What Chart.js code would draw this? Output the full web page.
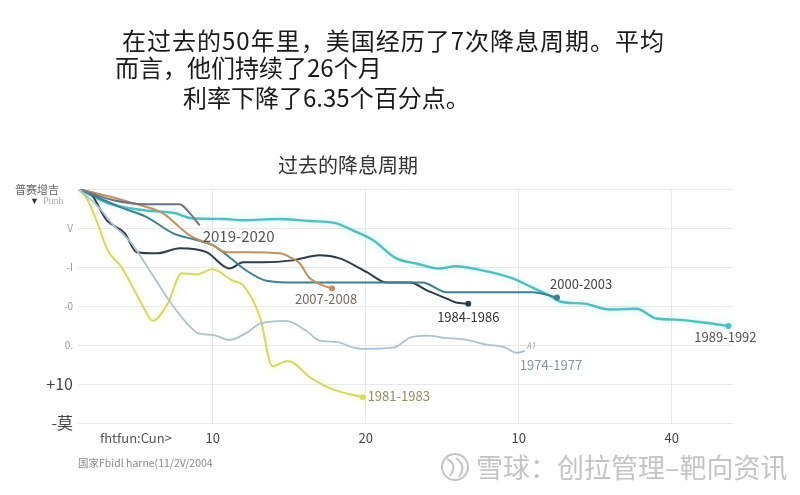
<!DOCTYPE html>
<html>
<head>
<meta charset="utf-8">
<script src="https://cdn.jsdelivr.net/npm/chart.js@4.4.0/dist/chart.umd.min.js"></script>
<style>
  body { margin: 0; background: #fff; width: 800px; height: 495px; overflow: hidden; position: relative; font-family: "Noto Sans CJK SC", sans-serif; }
  .t { position: absolute; color: #1a1a1a; font-size: 24px; line-height: 1; white-space: nowrap; z-index: 2; }
  .sub { position: absolute; color: #333; font-size: 20px; line-height: 1; white-space: nowrap; z-index: 2; }
  #chart { position: absolute; left: 0; top: 0; }
</style>
</head>
<body>
<div class="t" style="left:122px;top:28px;letter-spacing:1px">在过去的50年里，美国经历了7次降息周期。平均</div>
<div class="t" style="left:115px;top:55px">而言，他们持续了26个月</div>
<div class="t" style="left:183px;top:85px">利率下降了6.35个百分点。</div>
<div class="sub" style="left:278px;top:155px">过去的降息周期</div>
<canvas id="chart" width="800" height="495"></canvas>
<script>
// months since first cut / cumulative cut (in grid units)
const x1974 = [1.24, 2.6, 3.4, 4.7, 6.0, 7.3, 8.6, 9.15, 10.0, 11.1, 12.2, 13.1, 14.8, 16.1, 17.0, 18.1, 19.2, 19.8, 21.8, 22.9, 24.0, 25.0, 26.6, 27.9, 29.0, 29.9, 30.4];
const y1974 = [0, -0.49, -0.88, -1.39, -2.16, -2.94, -3.56, -3.71, -3.74, -3.87, -3.69, -3.45, -3.38, -3.63, -3.89, -3.92, -4.07, -4.10, -4.07, -3.81, -3.76, -3.81, -3.87, -3.99, -4.05, -4.20, -4.15];

const x1981 = [1.24, 1.83, 2.48, 3.14, 4.05, 5.36, 6.08, 7.06, 7.97, 8.95, 10.0, 11.3, 12.0, 13.1, 13.9, 14.9, 16.5, 17.8, 19.8];
const y1981 = [0, -0.28, -0.88, -1.57, -2.01, -2.94, -3.38, -2.94, -2.16, -2.19, -2.06, -2.35, -2.47, -3.30, -4.54, -4.41, -4.87, -5.13, -5.34];

const x1984 = [1.24, 2.09, 3.07, 4.25, 5.03, 6.4, 7.84, 9.6, 11.1, 12.0, 13.3, 15.2, 17.0, 18.3, 20.1, 21.4, 22.9, 24.0, 25.3, 25.9, 26.7];
const y1984 = [0, -0.15, -0.80, -1.13, -1.62, -1.65, -1.52, -1.62, -2.04, -1.88, -1.88, -1.83, -1.70, -1.78, -2.14, -2.40, -2.40, -2.60, -2.81, -2.91, -2.94];

const x1989 = [1.24, 3.14, 5.36, 7.52, 8.63, 10.78, 11.96, 14.18, 16.34, 18.1, 19.15, 20.46, 22.0, 23.3, 24.8, 25.9, 27.3, 29.6, 30.9, 32.0, 32.75, 34.3, 35.9, 37.7, 39.0, 40.3, 42.2, 43.7];
const y1989 = [0, -0.36, -0.54, -0.62, -0.75, -0.77, -0.80, -0.77, -0.82, -0.88, -1.06, -1.31, -1.78, -1.91, -2.04, -1.98, -2.06, -2.29, -2.53, -2.73, -2.89, -2.94, -3.09, -3.07, -3.32, -3.35, -3.43, -3.51];

const x2000 = [1.24, 4.12, 5.69, 7.39, 8.95, 10.0, 11.1, 12.2, 13.5, 15.5, 23.7, 25.3, 30.9, 32.5];
const y2000 = [0, -0.49, -0.72, -1.13, -1.31, -1.44, -1.75, -2.09, -2.35, -2.40, -2.40, -2.65, -2.65, -2.78];

const x2007 = [1.24, 3.46, 4.58, 6.73, 7.84, 8.5, 10.0, 10.9, 12.4, 14.4, 15.2, 15.7, 16.3, 17.2, 17.8];
const y2007 = [0, -0.21, -0.34, -0.62, -0.98, -1.19, -1.44, -1.62, -1.62, -1.65, -1.78, -1.91, -2.27, -2.47, -2.55];

const x2019 = [1.24, 3.46, 5.69, 7.84, 8.5, 9.15];
const y2019 = [0, -0.28, -0.39, -0.39, -0.62, -0.93];

const xTicks = [10, 20, 30, 40];
const xTickLabels = ['10', '20', '10', '40'];
const yTicks = [0, -1, -2, -3, -4, -5, -6];
const yTickLabels = ['', 'V', '-I', '-0', '0.', '+10', '-莫'];

// name, x, y, colour, width, end dot, glow, label offset
const series = [
    { name: '1974-1977', x: x1974, y: y1974, color: '#aac2d2', w: 1.8, dot: false, glow: null, lc: '#8595a8', dx: -5, dy: 14, align: 'left' },
    { name: '1981-1983', x: x1981, y: y1981, color: '#d6d66a', w: 2, dot: true, glow: 'rgba(240,240,120,0.5)', lc: '#8f8f62', dx: 5, dy: -1, align: 'left' },
    { name: '2019-2020', x: x2019, y: y2019, color: '#6d7184', w: 2, dot: false, glow: null, lc: '#555', dx: 3, dy: 11, align: 'left', size: 15 },
    { name: '2007-2008', x: x2007, y: y2007, color: '#c0905e', w: 2, dot: true, glow: null, lc: '#7a6c60', dx: -6, dy: 11, align: 'center' },
    { name: '2000-2003', x: x2000, y: y2000, color: '#3e7f90', w: 2, dot: true, glow: null, lc: '#444', dx: -7, dy: -13, align: 'left' },
    { name: '1984-1986', x: x1984, y: y1984, color: '#2d3c4c', w: 2, dot: true, glow: null, lc: '#333', dx: 0, dy: 13, align: 'center' },
    { name: '1989-1992', x: x1989, y: y1989, color: '#55bdbd', w: 2.4, dot: true, glow: 'rgba(110,225,225,0.55)', lc: '#555', dx: -3, dy: 11, align: 'center' }
];

const datasets = series.map(s => ({
    label: s.name,
    data: s.x.map((v, i) => ({ x: v, y: s.y[i] })),
    borderColor: s.color,
    backgroundColor: s.color,
    borderWidth: s.w,
    cubicInterpolationMode: 'monotone',
    pointRadius: ctx => (s.dot && ctx.dataIndex === s.x.length - 1) ? 3 : 0,
    pointBorderWidth: 0
}));

const glowPlugin = {
    id: 'glow',
    beforeDatasetDraw(chart, args) {
        const s = series[args.index];
        chart.ctx.save();
        if (s.glow) {
            chart.ctx.shadowColor = s.glow;
            chart.ctx.shadowBlur = 6;
        }
    },
    afterDatasetDraw(chart) {
        chart.ctx.restore();
    }
};

const textPlugin = {
    id: 'extraText',
    afterDraw(chart) {
        const ctx = chart.ctx;
        ctx.save();
        ctx.textBaseline = 'middle';
        // end labels
        series.forEach((s, i) => {
            const pts = chart.getDatasetMeta(i).data;
            const p = pts[pts.length - 1];
            ctx.font = (s.size || 13) + 'px "Noto Sans CJK SC"';
            ctx.fillStyle = s.lc;
            ctx.textAlign = s.align;
            ctx.fillText(s.name, p.x + s.dx, p.y + s.dy);
        });
        ctx.font = 'italic 8px "Noto Sans"';
        ctx.fillStyle = '#9aa8b8';
        ctx.textAlign = 'left';
        ctx.fillText('A1', 527, 347);

        // y axis heading
        ctx.textAlign = 'left';
        ctx.font = '11px "Noto Sans CJK SC"';
        ctx.fillStyle = '#666';
        ctx.fillText('普赛增吉', 15, 190);
        ctx.font = '9px "Noto Sans"';
        ctx.fillStyle = '#333';
        ctx.fillText('▼', 30, 201);
        ctx.font = '10px "Liberation Serif"';
        ctx.fillStyle = '#aaa';
        ctx.fillText('Punh', 43, 201);

        // x axis caption + source
        ctx.font = '13px "Noto Sans CJK SC"';
        ctx.fillStyle = '#555';
        ctx.fillText('fhtfun:Cun>', 100, 438);
        ctx.font = '10.5px "Noto Sans CJK SC"';
        ctx.fillStyle = '#8a8a8a';
        ctx.fillText('国家Fbidl harne(11/2V/2004', 78, 463);

        // watermark
        ctx.strokeStyle = '#c4c4c4';
        ctx.lineWidth = 2;
        ctx.beginPath();
        ctx.arc(455, 467, 13, 0, Math.PI * 2);
        ctx.stroke();
        ctx.beginPath();
        ctx.moveTo(447, 459);
        ctx.quadraticCurveTo(458, 464, 450, 476);
        ctx.moveTo(456, 458);
        ctx.quadraticCurveTo(467, 466, 459, 477);
        ctx.stroke();
        ctx.font = '27px "Noto Sans CJK SC"';
        ctx.fillStyle = '#c4c4c4';
        ctx.fillText('雪球：创拉管理–靶向资讯', 476, 468);
        ctx.restore();
    }
};

new Chart(document.getElementById('chart'), {
    type: 'line',
    data: { datasets: datasets },
    options: {
        responsive: false,
        animation: false,
        devicePixelRatio: 1,
        layout: { padding: { left: 0, top: 189, right: 67, bottom: 42 } },
        plugins: { legend: { display: false }, tooltip: { enabled: false } },
        scales: {
            x: {
                type: 'linear',
                min: 1.2,
                max: 44,
                afterBuildTicks: scale => { scale.ticks = xTicks.map(v => ({ value: v })); },
                afterFit: scale => { scale.height = 30; },
                grid: { color: '#e9e9e9', drawTicks: false },
                border: { display: false },
                ticks: {
                    padding: 7,
                    color: '#444',
                    font: { family: 'Noto Sans CJK SC', size: 13 },
                    callback: v => xTickLabels[xTicks.indexOf(v)]
                }
            },
            y: {
                min: -6,
                max: 0,
                afterBuildTicks: scale => { scale.ticks = yTicks.map(v => ({ value: v })); },
                afterFit: scale => { scale.width = 78; },
                grid: { color: '#e9e9e9', drawTicks: false },
                border: { display: false },
                ticks: {
                    padding: 5,
                    color: ctx => ctx.index >= 5 ? '#444' : '#9a9a9a',
                    font: ctx => ({ family: 'Noto Sans CJK SC', size: ctx.index >= 5 ? 16 : 10 }),
                    callback: v => yTickLabels[yTicks.indexOf(v)]
                }
            }
        }
    },
    plugins: [glowPlugin, textPlugin]
});
</script>
</body>
</html>
